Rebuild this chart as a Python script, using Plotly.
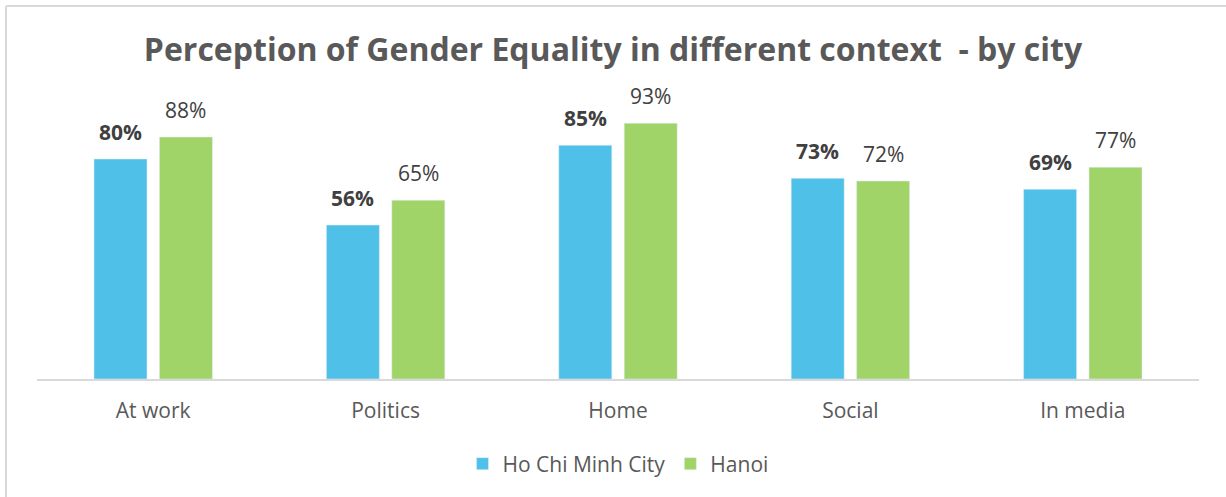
import plotly.graph_objects as go

categories = ["At work", "Politics", "Home", "Social", "In media"]
hcmc = [0.80, 0.56, 0.85, 0.73, 0.69]
hanoi = [0.88, 0.65, 0.93, 0.72, 0.77]
series_names = ["Ho Chi Minh City", "Hanoi"]
title_text = "Perception of Gender Equality in different context  - by city"

BLUE = "#4FC1E9"
GREEN = "#A0D468"
GRAY = "#595959"
FONT = "Open Sans"

W, H = 1226, 497
L, R, T, B = 37, 27, 104, 118
pw, ph = W - L - R, H - T - B

fig = go.Figure()
fig.add_trace(go.Bar(x=categories, y=hcmc, name=series_names[0], marker_color=BLUE))
fig.add_trace(go.Bar(x=categories, y=hanoi, name=series_names[1], marker_color=GREEN))

slot = pw / len(categories) * (1 - 0.437) / 2
for vals, shift, bold in [(hcmc, -slot / 2, True), (hanoi, slot / 2, False)]:
    for c, v in zip(categories, vals):
        txt = f"{round(v * 100)}%"
        if bold:
            txt = f"<b>{txt}</b>"
        fig.add_annotation(x=c, y=v, xshift=shift, yshift=11, yanchor="bottom",
                           text=txt, showarrow=False,
                           font=dict(family=FONT, size=21, color="#404040"))

# frame lines (top and left)
fig.add_shape(type="line", xref="paper", yref="paper",
              x0=(6 - L) / pw, x1=(W - L) / pw, y0=1 + (T - 6) / ph, y1=1 + (T - 6) / ph,
              line=dict(color="#D9D9D9", width=2))
fig.add_shape(type="line", xref="paper", yref="paper",
              x0=(6 - L) / pw, x1=(6 - L) / pw, y0=1 + (T - 6) / ph, y1=-(H - T - ph) / ph,
              line=dict(color="#D9D9D9", width=2))

fig.update_layout(
    width=W, height=H,
    margin=dict(l=L, r=R, t=T, b=B),
    paper_bgcolor="white", plot_bgcolor="white",
    barmode="group", bargap=0.437, bargroupgap=0.19,
    title=dict(text=f"<b>{title_text}</b>", x=0.5, xanchor="center",
               y=1 - 50 / H, yanchor="middle",
               font=dict(family=FONT, size=32, color=GRAY)),
    xaxis=dict(showline=True, linecolor="#D9D9D9", linewidth=1.5, ticks="",
               ticklabelstandoff=12,
               tickfont=dict(family=FONT, size=21, color=GRAY), showgrid=False),
    yaxis=dict(range=[0, 1], visible=False, showgrid=False),
    legend=dict(orientation="h", x=0.5, xanchor="center", y=-(464 - 379) / ph,
                yanchor="middle", font=dict(family=FONT, size=21, color=GRAY),
                itemwidth=30),
    showlegend=True,
)

fig.write_html("out.html", config={"displayModeBar": False},
               post_script="document.body.style.margin='0';")
